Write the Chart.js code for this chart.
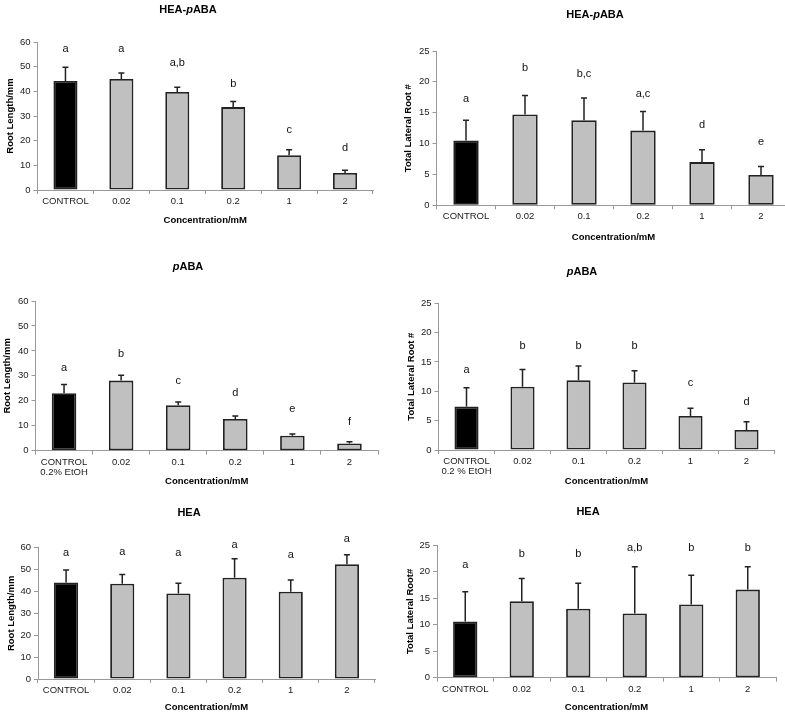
<!DOCTYPE html>
<html>
<head>
<meta charset="utf-8">
<script src="https://cdn.jsdelivr.net/npm/chart.js@4"></script>
<style>
  html, body { margin: 0; padding: 0; background: #fff; overflow: hidden; }
  #wrap { position: relative; width: 785px; height: 715px; overflow: hidden; }
  canvas { position: absolute; }
</style>
</head>
<body>
<div id="wrap">
  <canvas id="heaPabaLen"></canvas>
  <canvas id="heaPabaLat"></canvas>
  <canvas id="pabaLen"></canvas>
  <canvas id="pabaLat"></canvas>
  <canvas id="heaLen"></canvas>
  <canvas id="heaLat"></canvas>
</div>
<script>
const concLabels = ['CONTROL', '0.02', '0.1', '0.2', '1', '2'];
const concLabelsEtOH = [['CONTROL', '0.2% EtOH'], '0.02', '0.1', '0.2', '1', '2'];
const concLabelsEtOHSp = [['CONTROL', '0.2 % EtOH'], '0.02', '0.1', '0.2', '1', '2'];

// HEA-pABA
const heaPabaRootLen = [44.2, 45.0, 39.7, 33.6, 14.1, 6.9];
const heaPabaRootLenErr = [5.6, 2.4, 2.0, 2.3, 2.2, 1.1];
const heaPabaRootLenSig = ['a', 'a', 'a,b', 'b', 'c', 'd'];
const heaPabaRootLenSigAt = [57.3, 57.3, 51.5, 43.0, 24.4, 17.0];

const heaPabaLateral = [10.5, 14.7, 13.8, 12.1, 7.0, 4.9];
const heaPabaLateralErr = [3.3, 3.1, 3.6, 3.1, 2.0, 1.4];
const heaPabaLateralSig = ['a', 'b', 'b,c', 'a,c', 'd', 'e'];
const heaPabaLateralSigAt = [17.3, 22.2, 21.3, 18.1, 13.0, 10.2];

// pABA
const pabaRootLen = [23.0, 28.1, 18.2, 12.7, 6.0, 2.9];
const pabaRootLenErr = [3.5, 2.1, 1.3, 1.2, 0.7, 0.7];
const pabaRootLenSig = ['a', 'b', 'c', 'd', 'e', 'f'];
const pabaRootLenSigAt = [33.0, 38.8, 27.9, 23.3, 16.7, 11.6];

const pabaLateral = [7.4, 10.8, 11.9, 11.5, 5.8, 3.4];
const pabaLateralErr = [3.2, 2.9, 2.4, 2.0, 1.3, 1.4];
const pabaLateralSig = ['a', 'b', 'b', 'b', 'c', 'd'];
const pabaLateralSigAt = [13.6, 17.7, 17.7, 17.7, 11.4, 8.2];

// HEA
const heaRootLen = [44.1, 43.5, 39.1, 46.3, 39.9, 52.4];
const heaRootLenErr = [5.7, 4.3, 4.7, 8.6, 5.3, 4.4];
const heaRootLenSig = ['a', 'a', 'a', 'a', 'a', 'a'];
const heaRootLenSigAt = [57.4, 58.1, 57.6, 61.1, 56.7, 64.2];

const heaLateral = [10.6, 14.4, 13.0, 12.1, 13.8, 16.6];
const heaLateralErr = [5.6, 4.3, 4.8, 8.8, 5.5, 4.3];
const heaLateralSig = ['a', 'b', 'b', 'a,b', 'b', 'b'];
const heaLateralSigAt = [21.3, 23.4, 23.4, 24.5, 24.5, 24.5];

const FONT = '"Liberation Sans", Arial, sans-serif';
const barColors = ['#000000', '#c0c0c0', '#c0c0c0', '#c0c0c0', '#c0c0c0', '#c0c0c0'];

// title with italic "p"
const panelTitle = {
    id: 'panelTitle',
    afterDraw(chart, args, opts) {
        const ctx = chart.ctx;
        ctx.save();
        ctx.fillStyle = '#000';
        ctx.textBaseline = 'middle';
        ctx.textAlign = 'left';
        const fontFor = p => (p.italic ? 'italic ' : '') + 'bold 11px ' + FONT;
        let total = 0;
        const widths = opts.parts.map(p => {
            ctx.font = fontFor(p);
            const w = ctx.measureText(p.text).width;
            total += w;
            return w;
        });
        let x = opts.x - total / 2;
        opts.parts.forEach((p, i) => {
            ctx.font = fontFor(p);
            ctx.fillText(p.text, x, opts.y);
            x += widths[i];
        });
        ctx.restore();
    }
};

// upper error bars + significance letters
const errorBars = {
    id: 'errorBars',
    afterDatasetsDraw(chart) {
        const ctx = chart.ctx;
        const ds = chart.data.datasets[0];
        const meta = chart.getDatasetMeta(0);
        const y = chart.scales.y;
        ctx.save();
        ctx.strokeStyle = '#222';
        ctx.lineWidth = 1.5;
        meta.data.forEach((bar, i) => {
            const top = y.getPixelForValue(ds.data[i] + ds.errors[i]);
            ctx.beginPath();
            ctx.moveTo(bar.x, bar.y);
            ctx.lineTo(bar.x, top);
            ctx.moveTo(bar.x - 3, top);
            ctx.lineTo(bar.x + 3, top);
            ctx.stroke();
        });
        ctx.fillStyle = '#111';
        ctx.font = '11px ' + FONT;
        ctx.textAlign = 'center';
        ctx.textBaseline = 'middle';
        meta.data.forEach((bar, i) => {
            ctx.fillText(ds.sig[i], bar.x, y.getPixelForValue(ds.sigAt[i]));
        });
        ctx.restore();
    }
};

function makePanel(p) {
    const canvas = document.getElementById(p.id);
    canvas.width = p.box.w;
    canvas.height = p.box.h;
    canvas.style.left = p.box.x + 'px';
    canvas.style.top = p.box.y + 'px';

    return new Chart(canvas.getContext('2d'), {
        type: 'bar',
        data: {
            labels: p.labels,
            datasets: [{
                data: p.values,
                errors: p.errors,
                sig: p.sig,
                sigAt: p.sigAt,
                backgroundColor: barColors,
                borderColor: '#222',
                borderWidth: 1.8,
                borderSkipped: false,
                barPercentage: 0.43,
                categoryPercentage: 1.0
            }]
        },
        options: {
            responsive: false,
            animation: false,
            layout: {
                padding: { left: 0, top: p.box.padTop, right: p.box.padRight, bottom: 0 }
            },
            scales: {
                x: {
                    grid: { display: true, drawOnChartArea: false, drawTicks: true, tickLength: 4, color: '#999', offset: true },
                    border: { display: true, color: '#999', width: 1 },
                    ticks: {
                        color: '#1a1a1a',
                        font: { family: FONT, size: 9.5, lineHeight: 1.1 },
                        padding: 2,
                        maxRotation: 0,
                        autoSkip: false
                    },
                    title: {
                        display: true,
                        text: 'Concentration/mM',
                        color: '#000',
                        font: { family: FONT, size: 9.5, weight: 'bold' },
                        padding: { top: 0, bottom: p.box.xTitlePad }
                    },
                    afterFit: s => { s.height = p.box.xH; }
                },
                y: {
                    min: 0,
                    max: p.yMax,
                    grid: { display: true, drawOnChartArea: false, drawTicks: true, tickLength: 4, color: '#999' },
                    border: { display: true, color: '#999', width: 1 },
                    ticks: {
                        stepSize: p.yStep,
                        color: '#1a1a1a',
                        font: { family: FONT, size: 9.5 },
                        padding: 3
                    },
                    title: {
                        display: true,
                        text: p.yTitle,
                        color: '#000',
                        font: { family: FONT, size: 9.5, weight: 'bold' },
                        padding: { top: p.box.yTitlePad, bottom: 0 }
                    },
                    afterFit: s => { s.width = p.box.yW; }
                }
            },
            plugins: {
                legend: { display: false },
                tooltip: { enabled: false },
                panelTitle: { parts: p.title, x: p.box.titleX, y: p.box.titleY }
            }
        },
        plugins: [panelTitle, errorBars]
    });
}

const tHeaPaba = [{ text: 'HEA-' }, { text: 'p', italic: true }, { text: 'ABA' }];
const tPaba = [{ text: 'p', italic: true }, { text: 'ABA' }];
const tHea = [{ text: 'HEA' }];

makePanel({
    id: 'heaPabaLen', labels: concLabels, values: heaPabaRootLen, errors: heaPabaRootLenErr,
    sig: heaPabaRootLenSig, sigAt: heaPabaRootLenSigAt, yTitle: 'Root Length/mm', yMax: 60, yStep: 10, title: tHeaPaba,
    box: { x: 0, y: 0, w: 385, h: 235, padTop: 42, padRight: 12, yW: 37.5, xH: 45, xTitlePad: 9.3, yTitlePad: 4.3, titleX: 188, titleY: 10 }
});
makePanel({
    id: 'heaPabaLat', labels: concLabels, values: heaPabaLateral, errors: heaPabaLateralErr,
    sig: heaPabaLateralSig, sigAt: heaPabaLateralSigAt, yTitle: 'Total Lateral Root #', yMax: 25, yStep: 5, title: tHeaPaba,
    box: { x: 390, y: 0, w: 401, h: 245, padTop: 51, padRight: 0.5, yW: 46.5, xH: 39.7, xTitlePad: 2.3, yTitlePad: 12.3, titleX: 205, titleY: 15 }
});
makePanel({
    id: 'pabaLen', labels: concLabelsEtOH, values: pabaRootLen, errors: pabaRootLenErr,
    sig: pabaRootLenSig, sigAt: pabaRootLenSigAt, yTitle: 'Root Length/mm', yMax: 60, yStep: 10, title: tPaba,
    box: { x: 0, y: 245, w: 385, h: 245, padTop: 56, padRight: 7, yW: 35.5, xH: 39.3, xTitlePad: 3.3, yTitlePad: 1.6, titleX: 188, titleY: 21.7 }
});
makePanel({
    id: 'pabaLat', labels: concLabelsEtOHSp, values: pabaLateral, errors: pabaLateralErr,
    sig: pabaLateralSig, sigAt: pabaLateralSigAt, yTitle: 'Total Lateral Root #', yMax: 25, yStep: 5, title: tPaba,
    box: { x: 390, y: 245, w: 395, h: 245, padTop: 58.3, padRight: 10.5, yW: 48.5, xH: 40, xTitlePad: 3.3, yTitlePad: 15.3, titleX: 192, titleY: 26.7 }
});
makePanel({
    id: 'heaLen', labels: concLabels, values: heaRootLen, errors: heaRootLenErr,
    sig: heaRootLenSig, sigAt: heaRootLenSigAt, yTitle: 'Root Length/mm', yMax: 60, yStep: 10, title: tHea,
    box: { x: 0, y: 490, w: 385, h: 225, padTop: 57.7, padRight: 10, yW: 38, xH: 36, xTitlePad: 1.6, yTitlePad: 5.3, titleX: 189, titleY: 23 }
});
makePanel({
    id: 'heaLat', labels: concLabels, values: heaLateral, errors: heaLateralErr,
    sig: heaLateralSig, sigAt: heaLateralSigAt, yTitle: 'Total Lateral Root#', yMax: 25, yStep: 5, title: tHea,
    box: { x: 390, y: 490, w: 395, h: 225, padTop: 55, padRight: 9, yW: 47, xH: 37.3, xTitlePad: 1.6, yTitlePad: 14.3, titleX: 198, titleY: 21.7 }
});
</script>
</body>
</html>
